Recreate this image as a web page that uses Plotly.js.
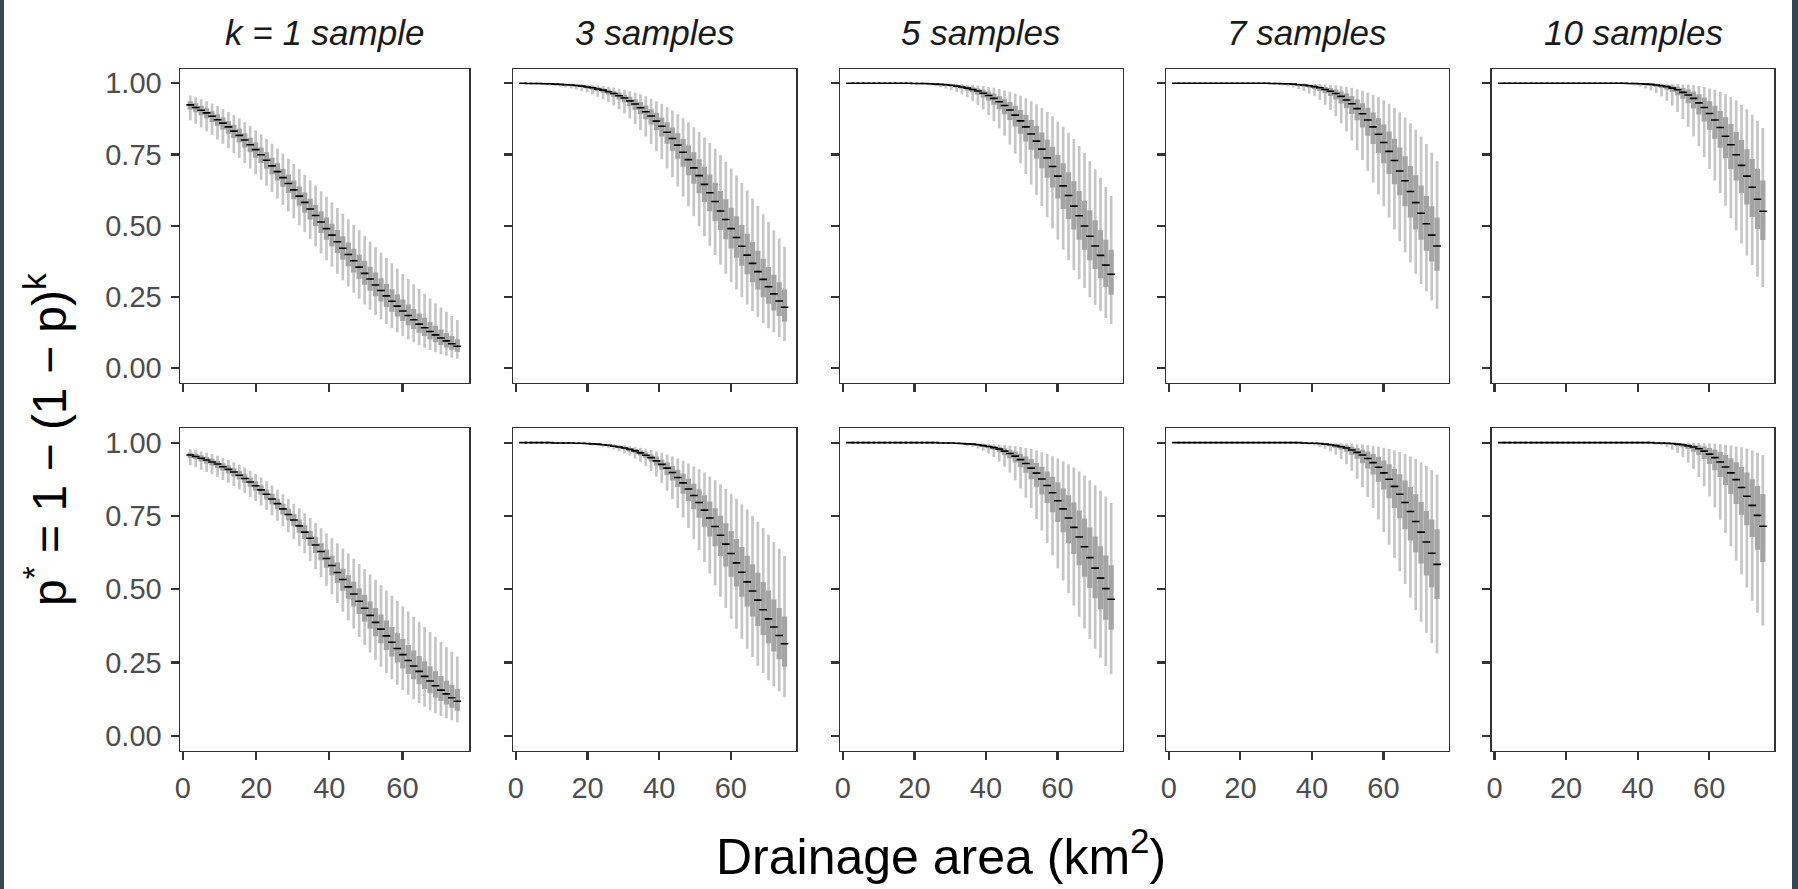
<!DOCTYPE html>
<html>
<head>
<meta charset="utf-8">
<script src="https://cdn.plot.ly/plotly-3.0.1.min.js"></script>
<style>
html,body{margin:0;padding:0;background:#ffffff;}
#chart{width:1798px;height:889px;}
</style>
</head>
<body>
<div id="chart"></div>
<script>
// ---------------- DATA ----------------
const drainageArea = [2.00,3.49,4.98,6.47,7.96,9.45,10.94,12.43,13.92,15.41,
16.90,18.39,19.88,21.37,22.86,24.35,25.84,27.33,28.82,30.31,
31.80,33.29,34.78,36.27,37.76,39.24,40.73,42.22,43.71,45.20,
46.69,48.18,49.67,51.16,52.65,54.14,55.63,57.12,58.61,60.10,
61.59,63.08,64.57,66.06,67.55,69.04,70.53,72.02,73.51,75.00];

const facetLabels = ["k = 1 sample","3 samples","5 samples","7 samples","10 samples"];
const yTickVals = [0,0.25,0.5,0.75,1];
const yTickText = ["0.00","0.25","0.50","0.75","1.00"];
const xTickVals = [0,20,40,60];
const xTickText = ["0","20","40","60"];

// ---- top row ----
const topK1Lo = [.870,.858,.845,.832,.818,.803,.788,.772,.755,.738,.720,.701,.681,.661,.640,.618,.596,.573,.550,.526,.502,.477,.453,.428,.403,.379,.356,.332,.309,.287,.265,.244,.224,.205,.187,.171,.155,.140,.126,.113,.102,.091,.081,.072,.064,.056,.049,.044,.038,.033];
const topK1Q1 = [.908,.898,.888,.877,.864,.851,.838,.823,.808,.792,.775,.758,.739,.720,.700,.680,.659,.637,.615,.593,.570,.546,.522,.499,.475,.451,.428,.404,.381,.358,.336,.314,.293,.272,.253,.234,.215,.198,.182,.166,.151,.138,.125,.113,.102,.091,.082,.073,.065,.058];
const topK1Med = [.924,.915,.905,.896,.884,.872,.860,.847,.832,.817,.801,.784,.767,.749,.730,.710,.690,.669,.648,.626,.604,.582,.559,.536,.513,.490,.467,.444,.421,.399,.377,.355,.333,.313,.292,.273,.254,.235,.218,.201,.185,.170,.155,.142,.129,.117,.106,.096,.086,.077];
const topK1Q3 = [.937,.930,.921,.912,.902,.891,.880,.867,.854,.840,.825,.809,.792,.775,.758,.739,.720,.700,.680,.659,.638,.617,.595,.573,.551,.529,.507,.485,.463,.441,.419,.398,.377,.356,.336,.316,.296,.277,.259,.241,.224,.208,.192,.177,.162,.149,.136,.124,.113,.102];
const topK1Hi = [.957,.951,.944,.937,.929,.920,.910,.899,.888,.876,.863,.850,.835,.820,.804,.788,.771,.753,.735,.717,.698,.679,.660,.641,.621,.602,.582,.562,.542,.523,.503,.484,.464,.445,.425,.406,.387,.368,.350,.331,.313,.295,.278,.261,.245,.228,.213,.198,.183,.169];

const topK3Lo = [.998,.997,.996,.995,.994,.992,.990,.988,.985,.982,.978,.973,.968,.961,.953,.944,.934,.922,.909,.894,.876,.857,.836,.813,.787,.761,.733,.702,.670,.638,.603,.568,.533,.498,.463,.430,.397,.364,.332,.302,.276,.249,.224,.201,.180,.159,.140,.126,.110,.096];
const topK3Q1 = [.999,.999,.999,.998,.997,.997,.996,.994,.993,.991,.989,.986,.982,.978,.973,.967,.960,.952,.943,.933,.920,.906,.891,.874,.855,.835,.813,.788,.763,.735,.707,.677,.647,.614,.583,.551,.516,.484,.453,.420,.388,.360,.330,.302,.276,.249,.226,.203,.183,.164];
const topK3Med = [1,.999,.999,.999,.998,.998,.997,.996,.995,.994,.992,.990,.987,.984,.980,.976,.970,.964,.956,.948,.938,.927,.914,.900,.885,.867,.849,.828,.806,.783,.758,.732,.703,.676,.645,.616,.585,.552,.522,.490,.459,.428,.397,.368,.339,.312,.286,.261,.236,.214];
const topK3Q3 = [1,1,1,.999,.999,.999,.998,.998,.997,.996,.995,.993,.991,.989,.986,.982,.978,.973,.967,.960,.953,.944,.934,.922,.909,.896,.880,.863,.845,.825,.804,.782,.758,.733,.707,.680,.651,.622,.593,.563,.533,.503,.472,.443,.412,.384,.355,.328,.302,.276];
const topK3Hi = [1,1,1,1,1,1,.999,.999,.999,.998,.997,.997,.996,.994,.992,.990,.988,.985,.981,.977,.972,.967,.961,.954,.946,.937,.927,.916,.904,.891,.877,.863,.846,.829,.810,.790,.770,.748,.725,.701,.676,.650,.624,.596,.570,.540,.513,.484,.455,.426];

const topK5Lo = [1,1,1,1,1,1,1,.999,.999,.999,.998,.998,.997,.996,.994,.992,.989,.986,.982,.976,.969,.961,.951,.939,.924,.908,.889,.867,.842,.816,.785,.753,.719,.682,.645,.608,.569,.530,.490,.451,.416,.379,.344,.312,.282,.250,.222,.202,.176,.155];
const topK5Q1 = [1,1,1,1,1,1,1,1,1,1,.999,.999,.999,.998,.998,.997,.995,.994,.992,.989,.985,.981,.975,.968,.960,.950,.939,.925,.909,.891,.871,.848,.823,.796,.767,.736,.702,.668,.634,.596,.559,.524,.487,.451,.416,.379,.348,.316,.285,.258];
const topK5Med = [1,1,1,1,1,1,1,1,1,1,1,1,.999,.999,.999,.998,.997,.996,.995,.993,.990,.987,.983,.978,.973,.965,.957,.947,.935,.922,.906,.888,.868,.847,.822,.797,.769,.738,.708,.674,.640,.606,.569,.535,.499,.463,.429,.396,.362,.330];
const topK5Q3 = [1,1,1,1,1,1,1,1,1,1,1,1,1,.999,.999,.999,.998,.998,.997,.995,.994,.992,.989,.986,.982,.977,.971,.964,.955,.945,.934,.921,.906,.889,.871,.850,.827,.802,.777,.748,.719,.688,.656,.622,.587,.554,.519,.484,.451,.416];
const topK5Hi = [1,1,1,1,1,1,1,1,1,1,1,1,1,1,1,1,.999,.999,.999,.998,.997,.997,.995,.994,.992,.990,.987,.984,.980,.975,.970,.963,.956,.947,.937,.926,.913,.899,.884,.866,.847,.826,.804,.780,.755,.726,.698,.668,.636,.604];

const topK7Lo = [1,1,1,1,1,1,1,1,1,1,1,1,1,.999,.999,.999,.998,.997,.996,.995,.992,.989,.985,.980,.973,.964,.954,.941,.925,.906,.884,.859,.831,.799,.765,.731,.692,.652,.610,.568,.529,.487,.446,.407,.371,.332,.296,.270,.238,.209];
const topK7Q1 = [1,1,1,1,1,1,1,1,1,1,1,1,1,1,1,1,1,.999,.999,.998,.997,.996,.994,.992,.989,.985,.980,.973,.965,.955,.943,.929,.912,.892,.870,.845,.816,.787,.755,.719,.682,.646,.607,.568,.529,.487,.451,.412,.375,.342];
const topK7Med = [1,1,1,1,1,1,1,1,1,1,1,1,1,1,1,1,1,1,.999,.999,.998,.998,.997,.995,.994,.991,.988,.984,.978,.972,.964,.954,.941,.928,.911,.893,.871,.847,.821,.792,.761,.729,.692,.658,.620,.581,.544,.507,.467,.429];
const topK7Q3 = [1,1,1,1,1,1,1,1,1,1,1,1,1,1,1,1,1,1,1,.999,.999,.999,.998,.997,.996,.995,.993,.990,.987,.983,.978,.971,.964,.954,.943,.930,.914,.897,.877,.855,.831,.805,.775,.744,.710,.677,.641,.604,.568,.529];
const topK7Hi = [1,1,1,1,1,1,1,1,1,1,1,1,1,1,1,1,1,1,1,1,1,1,.999,.999,.999,.998,.998,.997,.996,.994,.993,.990,.987,.984,.979,.974,.967,.960,.951,.940,.928,.913,.898,.880,.860,.837,.813,.787,.757,.726];

const topK10Lo = [1,1,1,1,1,1,1,1,1,1,1,1,1,1,1,1,1,1,1,.999,.999,.998,.998,.996,.994,.991,.988,.982,.975,.966,.954,.939,.921,.899,.874,.847,.814,.779,.740,.699,.659,.615,.570,.526,.484,.438,.395,.362,.321,.285];
const topK10Q1 = [1,1,1,1,1,1,1,1,1,1,1,1,1,1,1,1,1,1,1,1,1,1,.999,.999,.998,.998,.996,.994,.992,.988,.983,.977,.969,.958,.946,.930,.911,.890,.866,.837,.805,.774,.737,.699,.659,.615,.575,.531,.489,.450];
const topK10Med = [1,1,1,1,1,1,1,1,1,1,1,1,1,1,1,1,1,1,1,1,1,1,1,1,.999,.999,.998,.997,.996,.994,.991,.988,.983,.977,.968,.959,.947,.931,.915,.894,.871,.845,.814,.784,.749,.712,.674,.635,.593,.551];
const topK10Q3 = [1,1,1,1,1,1,1,1,1,1,1,1,1,1,1,1,1,1,1,1,1,1,1,1,1,1,.999,.999,.998,.997,.996,.994,.991,.988,.983,.978,.970,.961,.950,.937,.921,.903,.881,.857,.829,.801,.768,.734,.699,.659];
const topK10Hi = [1,1,1,1,1,1,1,1,1,1,1,1,1,1,1,1,1,1,1,1,1,1,1,1,1,1,1,1,1,.999,.999,.999,.998,.997,.996,.995,.993,.990,.987,.982,.977,.970,.962,.951,.940,.925,.909,.890,.868,.843];

// ---- bottom row ----
const botK1Lo = [.923,.916,.908,.900,.892,.883,.873,.863,.852,.840,.828,.815,.801,.786,.770,.752,.734,.715,.694,.671,.647,.623,.596,.569,.541,.512,.483,.453,.423,.394,.366,.337,.310,.284,.259,.236,.214,.193,.174,.156,.140,.125,.111,.099,.087,.077,.068,.060,.053,.046];
const botK1Q1 = [.948,.943,.936,.929,.922,.913,.905,.895,.885,.874,.862,.850,.836,.822,.806,.790,.773,.755,.735,.715,.693,.671,.648,.624,.599,.573,.548,.521,.495,.468,.442,.416,.390,.365,.340,.316,.293,.271,.250,.230,.211,.193,.176,.160,.145,.131,.119,.107,.096,.086];
const botK1Med = [.958,.953,.947,.941,.934,.927,.918,.909,.900,.889,.878,.866,.853,.839,.824,.808,.792,.774,.755,.736,.716,.695,.674,.651,.629,.605,.581,.557,.533,.508,.484,.459,.435,.411,.387,.364,.341,.319,.298,.277,.257,.238,.220,.203,.187,.171,.156,.143,.130,.118];
const botK1Q3 = [.966,.962,.957,.951,.945,.938,.930,.922,.913,.903,.892,.880,.868,.854,.840,.825,.809,.792,.775,.757,.738,.718,.699,.678,.657,.636,.614,.592,.570,.548,.526,.503,.481,.458,.436,.414,.393,.371,.350,.330,.310,.291,.272,.254,.237,.220,.204,.188,.174,.160];
const botK1Hi = [.978,.974,.970,.966,.961,.955,.948,.941,.933,.925,.915,.904,.893,.881,.868,.854,.839,.824,.808,.792,.776,.759,.743,.726,.708,.691,.674,.657,.639,.622,.604,.586,.568,.550,.532,.514,.496,.478,.460,.442,.424,.406,.389,.371,.354,.337,.320,.303,.287,.271];

const botK3Lo = [1,.999,.999,.999,.999,.998,.998,.997,.997,.996,.995,.994,.992,.990,.988,.985,.981,.977,.971,.964,.956,.946,.934,.920,.903,.884,.862,.836,.808,.777,.745,.709,.671,.633,.593,.554,.514,.474,.436,.399,.364,.330,.297,.269,.239,.214,.190,.169,.151,.132];
const botK3Q1 = [1,1,1,1,1,.999,.999,.999,.998,.998,.997,.997,.996,.994,.993,.991,.988,.985,.981,.977,.971,.964,.956,.947,.936,.922,.908,.890,.871,.849,.826,.801,.773,.744,.713,.680,.647,.613,.578,.543,.509,.474,.441,.407,.375,.344,.316,.288,.261,.236];
const botK3Med = [1,1,1,1,1,1,.999,.999,.999,.999,.998,.998,.997,.996,.995,.993,.991,.988,.985,.982,.977,.972,.965,.957,.949,.938,.926,.913,.898,.881,.863,.842,.820,.796,.770,.743,.714,.684,.654,.622,.590,.558,.525,.494,.463,.430,.399,.371,.342,.314];
const botK3Q3 = [1,1,1,1,1,1,1,1,.999,.999,.999,.998,.998,.997,.996,.995,.993,.991,.989,.986,.982,.978,.973,.967,.960,.952,.942,.932,.920,.908,.894,.877,.860,.841,.821,.799,.776,.751,.725,.699,.671,.644,.614,.585,.556,.525,.496,.465,.436,.407];
const botK3Hi = [1,1,1,1,1,1,1,1,1,1,.999,.999,.999,.998,.998,.997,.996,.995,.993,.991,.989,.986,.983,.979,.975,.970,.965,.960,.953,.946,.938,.929,.919,.909,.898,.885,.872,.858,.843,.826,.809,.790,.772,.751,.730,.709,.686,.661,.638,.613];

const botK5Lo = [1,1,1,1,1,1,1,1,1,1,1,1,1,1,.999,.999,.999,.998,.997,.996,.995,.992,.989,.985,.980,.972,.963,.951,.936,.918,.898,.872,.844,.812,.777,.740,.700,.658,.615,.572,.530,.487,.445,.406,.366,.330,.297,.266,.238,.210];
const botK5Q1 = [1,1,1,1,1,1,1,1,1,1,1,1,1,1,1,1,.999,.999,.999,.998,.997,.996,.995,.992,.990,.986,.981,.975,.967,.957,.946,.932,.916,.897,.875,.850,.823,.794,.763,.729,.694,.658,.620,.582,.543,.504,.469,.432,.396,.362];
const botK5Med = [1,1,1,1,1,1,1,1,1,1,1,1,1,1,1,1,1,.999,.999,.999,.998,.997,.996,.995,.993,.990,.987,.983,.978,.971,.963,.954,.942,.929,.913,.896,.876,.854,.829,.802,.774,.743,.711,.678,.645,.608,.572,.538,.502,.466];
const botK5Q3 = [1,1,1,1,1,1,1,1,1,1,1,1,1,1,1,1,1,1,.999,.999,.999,.998,.998,.997,.995,.994,.991,.989,.985,.981,.976,.970,.962,.953,.943,.931,.918,.902,.884,.865,.844,.821,.796,.769,.741,.711,.680,.647,.615,.582];
const botK5Hi = [1,1,1,1,1,1,1,1,1,1,1,1,1,1,1,1,1,1,1,1,.999,.999,.999,.998,.998,.997,.996,.995,.994,.992,.990,.988,.985,.982,.978,.973,.967,.961,.954,.946,.937,.926,.915,.902,.888,.872,.855,.836,.816,.794];

const botK7Lo = [1,1,1,1,1,1,1,1,1,1,1,1,1,1,1,1,1,1,1,1,.999,.999,.998,.997,.996,.993,.990,.985,.979,.970,.959,.944,.926,.904,.877,.848,.815,.777,.738,.695,.652,.607,.561,.518,.471,.429,.389,.352,.317,.281];
const botK7Q1 = [1,1,1,1,1,1,1,1,1,1,1,1,1,1,1,1,1,1,1,1,1,1,.999,.999,.998,.997,.996,.994,.992,.988,.983,.977,.969,.958,.945,.930,.912,.891,.867,.840,.810,.777,.742,.705,.666,.626,.588,.547,.507,.467];
const botK7Med = [1,1,1,1,1,1,1,1,1,1,1,1,1,1,1,1,1,1,1,1,1,1,1,1,.999,.998,.998,.997,.995,.993,.990,.986,.982,.975,.967,.958,.946,.932,.916,.897,.875,.851,.824,.796,.765,.731,.695,.661,.623,.585];
const botK7Q3 = [1,1,1,1,1,1,1,1,1,1,1,1,1,1,1,1,1,1,1,1,1,1,1,1,1,.999,.999,.998,.997,.996,.995,.993,.990,.986,.982,.976,.970,.961,.951,.939,.926,.910,.892,.871,.849,.824,.798,.767,.738,.705];
const botK7Hi = [1,1,1,1,1,1,1,1,1,1,1,1,1,1,1,1,1,1,1,1,1,1,1,1,1,1,1,.999,.999,.999,.998,.998,.997,.996,.995,.994,.992,.989,.987,.983,.979,.974,.968,.961,.953,.944,.933,.920,.906,.891];

const botK10Lo = [1,1,1,1,1,1,1,1,1,1,1,1,1,1,1,1,1,1,1,1,1,1,1,1,1,.999,.999,.998,.996,.993,.990,.984,.976,.965,.950,.932,.910,.883,.852,.817,.779,.737,.692,.647,.598,.551,.506,.461,.420,.376];
const botK10Q1 = [1,1,1,1,1,1,1,1,1,1,1,1,1,1,1,1,1,1,1,1,1,1,1,1,1,1,1,.999,.999,.998,.997,.995,.993,.989,.984,.978,.969,.958,.944,.927,.906,.883,.856,.825,.791,.754,.718,.678,.635,.593];
const botK10Med = [1,1,1,1,1,1,1,1,1,1,1,1,1,1,1,1,1,1,1,1,1,1,1,1,1,1,1,1,1,.999,.999,.998,.997,.995,.993,.989,.985,.979,.971,.961,.949,.934,.917,.897,.874,.847,.817,.786,.752,.715];
const botK10Q3 = [1,1,1,1,1,1,1,1,1,1,1,1,1,1,1,1,1,1,1,1,1,1,1,1,1,1,1,1,1,1,.999,.999,.999,.998,.997,.995,.993,.990,.987,.982,.976,.968,.958,.947,.933,.917,.898,.875,.852,.825];
const botK10Hi = [1,1,1,1,1,1,1,1,1,1,1,1,1,1,1,1,1,1,1,1,1,1,1,1,1,1,1,1,1,1,1,1,1,1,.999,.999,.999,.998,.998,.997,.996,.995,.993,.990,.987,.984,.979,.973,.966,.958];

// ---------------- BUILD ----------------
const panels = [
  [topK1Lo,topK1Q1,topK1Med,topK1Q3,topK1Hi],
  [topK3Lo,topK3Q1,topK3Med,topK3Q3,topK3Hi],
  [topK5Lo,topK5Q1,topK5Med,topK5Q3,topK5Hi],
  [topK7Lo,topK7Q1,topK7Med,topK7Q3,topK7Hi],
  [topK10Lo,topK10Q1,topK10Med,topK10Q3,topK10Hi],
  [botK1Lo,botK1Q1,botK1Med,botK1Q3,botK1Hi],
  [botK3Lo,botK3Q1,botK3Med,botK3Q3,botK3Hi],
  [botK5Lo,botK5Q1,botK5Med,botK5Q3,botK5Hi],
  [botK7Lo,botK7Q1,botK7Med,botK7Q3,botK7Hi],
  [botK10Lo,botK10Q1,botK10Med,botK10Q3,botK10Hi]
];

const W = 1798, H = 889;
const colPx = [[180,469],[513,796],[840,1122.6],[1166,1448.5],[1491.7,1774.3]];
const rowPx = [[69,382.5],[428,750.5]];
const FONT = "Liberation Sans, Arial, Helvetica, sans-serif";

function segs(xs, a, b) {
  const X = [], Y = [];
  xs.forEach((x, i) => { X.push(x, x, null); Y.push(a[i], b[i], null); });
  return {X, Y};
}

const traces = [];
const layout = {
  width: W, height: H,
  margin: {l:0, r:0, t:0, b:0, pad:0},
  paper_bgcolor: "#ffffff",
  plot_bgcolor: "#ffffff",
  showlegend: false,
  hovermode: false,
  font: {family: FONT, color: "#4d4d4d"},
  annotations: [],
  shapes: [
    {type:"rect", xref:"paper", yref:"paper", x0:0, x1:4/W, y0:0, y1:1, fillcolor:"#37474F", line:{width:0}, layer:"above"},
    {type:"rect", xref:"paper", yref:"paper", x0:1792/W, x1:1, y0:0, y1:1, fillcolor:"#37474F", line:{width:0}, layer:"above"}
  ]
};

panels.forEach((p, idx) => {
  const row = Math.floor(idx / 5), col = idx % 5;
  const n = idx + 1;
  const xa = n === 1 ? "x" : "x" + n;
  const ya = n === 1 ? "y" : "y" + n;
  const [lo, q1, med, q3, hi] = p;
  const w = segs(drainageArea, lo, hi);
  const b = segs(drainageArea, q1, q3);
  traces.push({type:"scatter", mode:"lines", x:w.X, y:w.Y, xaxis:xa, yaxis:ya,
    line:{color:"#c6c6c6", width:2.7}, connectgaps:false, hoverinfo:"skip"});
  traces.push({type:"scatter", mode:"lines", x:b.X, y:b.Y, xaxis:xa, yaxis:ya,
    line:{color:"#a4a4a4", width:5.2}, connectgaps:false, hoverinfo:"skip"});
  traces.push({type:"scatter", mode:"markers", x:drainageArea, y:med, xaxis:xa, yaxis:ya,
    marker:{symbol:"line-ew", size:5.5, color:"#000000", line:{color:"#000000", width:1.6}}, hoverinfo:"skip"});

  const cx = colPx[col], ry = rowPx[row];
  const axCommon = {
    showgrid:false, zeroline:false, showline:true, mirror:true,
    linecolor:"#333333", linewidth:1.5,
    ticks:"outside", ticklen:8, tickwidth:2.2, tickcolor:"#333333",
    tickfont:{family:FONT, size:29, color:"#4d4d4d"},
    fixedrange:true, automargin:false
  };
  layout["xaxis" + (n === 1 ? "" : n)] = Object.assign({}, axCommon, {
    domain:[cx[0]/W, cx[1]/W], range:[-0.8, 78.2], anchor:ya,
    tickmode:"array", tickvals:xTickVals, ticktext:xTickText,
    showticklabels: row === 1, ticklabelstandoff: 3
  });
  layout["yaxis" + (n === 1 ? "" : n)] = Object.assign({}, axCommon, {
    domain:[1 - ry[1]/H, 1 - ry[0]/H], range:[-0.05, 1.05], anchor:xa,
    tickmode:"array", tickvals:yTickVals, ticktext:yTickText,
    showticklabels: col === 0, ticklabelstandoff: 3
  });
  if (row === 0) {
    layout.annotations.push({
      xref:"paper", yref:"paper", x:(cx[0] + cx[1]) / 2 / W, y:1 - 32 / H,
      xanchor:"center", yanchor:"middle", showarrow:false,
      text:"<i>" + facetLabels[col] + "</i>",
      font:{family:FONT, size:35, color:"#1a1a1a"}
    });
  }
});

layout.annotations.push({
  xref:"paper", yref:"paper", x:941 / W, y:1 - 853 / H,
  xanchor:"center", yanchor:"middle", showarrow:false,
  text:"Drainage area (km<sup>2</sup>)",
  font:{family:FONT, size:50, color:"#000000"}
});
layout.annotations.push({
  xref:"paper", yref:"paper", x:46 / W, y:1 - 440 / H,
  xanchor:"center", yanchor:"middle", showarrow:false, textangle:-90,
  text:"p<sup>*</sup> = 1 \u2212 (1 \u2212 p)<sup>k</sup>",
  font:{family:FONT, size:48, color:"#000000"}
});

Plotly.newPlot("chart", traces, layout, {displayModeBar:false, staticPlot:true});
</script>
</body>
</html>
